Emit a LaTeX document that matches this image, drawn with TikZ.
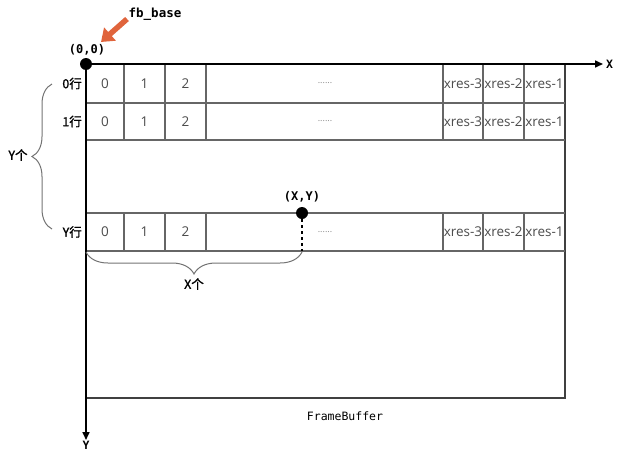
\documentclass[tikz,border=0pt]{standalone}
\usepackage{fontspec}
\newfontfamily\cjk[AutoFakeBold=1.2]{Noto Sans CJK SC}
\newfontfamily\cellfont{Open Sans}
\newfontfamily\codefont{DejaVu Sans Mono}
\usetikzlibrary{arrows.meta,positioning,decorations.pathreplacing}
\definecolor{fborange}{RGB}{224,100,60}

\begin{document}
\begin{tikzpicture}[x=1pt, y=-1pt,
    cell/.style={font=\cellfont\fontsize{13.5}{13.5}\selectfont, text=black!70, inner sep=0pt},
    etc/.style={font=\cellfont\fontsize{9}{9}\selectfont, text=black!45, inner sep=0pt},
    rowlab/.style={font=\cjk\bfseries\fontsize{12.5}{12.5}\selectfont, anchor=east, inner sep=1pt},
    code/.style={font=\codefont\fontsize{11.5}{11.5}\selectfont, inner sep=1pt},
    dotnode/.style={circle, fill=black, inner sep=0pt, minimum size=12pt},
    gridline/.style={draw=black!60, line width=1.1pt},
    frameline/.style={draw=black!75, line width=1.6pt},
    axis/.style={-{Triangle[length=8pt,width=7pt]}, line width=1.6pt},
    curly/.style={draw=black!55, line width=1pt, decorate, decoration={brace, amplitude=#1}},
    fbarrow/.style={fborange, line width=5.5pt, -{Triangle[length=12pt,width=17pt]}},
    ]
\useasboundingbox (0,0) rectangle (621,458);

% frame of the buffer
\draw[frameline] (86,398) -- (565,398) -- (565,64);

% rows and columns
\foreach \h in {103,140,213,251}
  \draw[gridline] (86,\h) -- (565,\h);
\foreach \t/\b in {64/103,103/140,213/251}
  \foreach \c in {124,165,206,443,483,524}
    \draw[gridline] (\c,\t) -- (\c,\b);

% cell texts
\foreach \m/\r in {83.5/0,121.5/1,232/Y} {
  \node[cell] at (105,\m) {0};
  \node[cell] at (144.5,\m) {1};
  \node[cell] at (185.5,\m) {2};
  \node[etc] at (325,\m) {......};
  \node[cell] at (463,\m) {xres-3};
  \node[cell] at (503.5,\m) {xres-2};
  \node[cell] at (544.5,\m) {xres-1};
  \node[rowlab] at (83,\m) {\r 行};
}

% axes
\node[dotnode] (o) at (86,64) {};
\coordinate (xend) at (603,64);
\coordinate (yend) at (86,440);
\draw[axis] (o.center) -- (xend);
\draw[axis] (o.center) -- (yend);
\node[code, font=\codefont\bfseries\fontsize{11.5}{11.5}\selectfont, right=2pt of xend] (xlab) {X};
\node[code, font=\codefont\bfseries\fontsize{11.5}{11.5}\selectfont, below=0pt of yend] (ylab) {Y};
\node[code, font=\codefont\bfseries\fontsize{12}{12}\selectfont] (olab) at (87,50) {(0,0)};

% fb_base pointer
\node[code, font=\codefont\bfseries\fontsize{12.5}{12.5}\selectfont] (fb) at (155,14) {fb\_base};
\coordinate (fbtail) at (127,19);
\coordinate (fbtip) at (101,42);
\draw[fbarrow] (fbtail) -- (fbtip);

% point (X,Y)
\node[dotnode] (p) at (302,213) {};
\node[code, font=\codefont\bfseries\fontsize{12}{12}\selectfont] (plab) at (302,197) {(X,Y)};
\coordinate (pfoot) at (302,251);
\draw[dashed, line width=1.1pt] (p.center) -- (pfoot);

% braces
\draw[curly=20pt] (52,229) -- (52,84);
\node[rowlab, anchor=center] (ycount) at (18,155) {Y个};
\draw[curly=22pt] (302,252) -- (86,252);
\node[rowlab, anchor=center] (xcount) at (194,284) {X个};

% caption
\node[code] (fbname) at (345,416) {FrameBuffer};
\end{tikzpicture}
\end{document}
